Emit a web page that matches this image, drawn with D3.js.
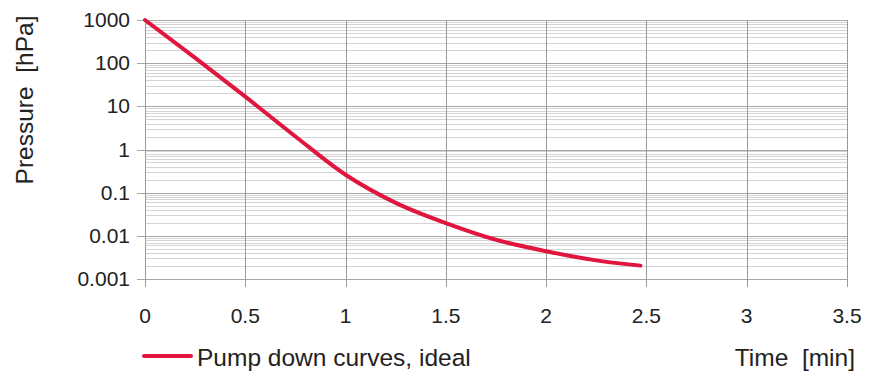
<!DOCTYPE html>
<html>
<head>
<meta charset="utf-8">
<script src="https://cdn.jsdelivr.net/npm/d3@7"></script>
<style>
  html, body { margin: 0; padding: 0; background: #fff; }
  svg { display: block; font-family: "Liberation Sans", Arial, sans-serif; }
</style>
</head>
<body>
<svg id="chart" width="893" height="372"></svg>
<script>
// Pump-down curve: time in minutes vs pressure in hPa
const timeMin = [0, 0.25, 0.5, 0.75, 1.0, 1.25, 1.5, 1.75, 2.0, 2.25, 2.47];
const pressureHPa = [1000, 133, 16.8, 2.0, 0.26, 0.058, 0.0197, 0.0081, 0.0044, 0.0027, 0.00204];

const xTicks = [0, 0.5, 1, 1.5, 2, 2.5, 3, 3.5];
const yTicks = [1000, 100, 10, 1, 0.1, 0.01, 0.001];
const yTickLabels = ["1000", "100", "10", "1", "0.1", "0.01", "0.001"];

const seriesName = "Pump down curves, ideal";
const xTitle = "Time  [min]";
const yTitle = "Pressure  [hPa]";

const svg = d3.select("#chart");
const m = { left: 145, right: 847, top: 20, bottom: 279 };

const x = d3.scaleLinear().domain([0, 3.5]).range([m.left, m.right]);
const y = d3.scaleLog().domain([0.001, 1000]).range([m.bottom, m.top]);

// minor horizontal grid (2..9 within each decade)
const minor = [];
for (let e = -3; e < 3; e++) {
  for (let k = 2; k <= 9; k++) minor.push(k * Math.pow(10, e));
}
svg.append("g").selectAll("line").data(minor).join("line")
  .attr("x1", m.left).attr("x2", m.right)
  .attr("y1", d => Math.round(y(d)) + 0.5).attr("y2", d => Math.round(y(d)) + 0.5)
  .attr("stroke", "#d4d4d4").attr("stroke-width", 1);

// major horizontal grid
svg.append("g").selectAll("line").data(yTicks).join("line")
  .attr("x1", m.left - 8).attr("x2", m.right)
  .attr("y1", d => Math.round(y(d)) + 0.5).attr("y2", d => Math.round(y(d)) + 0.5)
  .attr("stroke", "#a6a6a6").attr("stroke-width", 1);

// vertical grid + x ticks
svg.append("g").selectAll("line").data(xTicks).join("line")
  .attr("x1", d => Math.round(x(d)) + 0.5).attr("x2", d => Math.round(x(d)) + 0.5)
  .attr("y1", m.top).attr("y2", m.bottom + 8)
  .attr("stroke", "#9a9a9a").attr("stroke-width", 1);

// y tick labels
svg.append("g").selectAll("text").data(yTicks).join("text")
  .attr("x", m.left - 15).attr("y", d => y(d) + 7)
  .attr("text-anchor", "end")
  .attr("font-size", 21).attr("fill", "#222")
  .text((d, i) => yTickLabels[i]);

// x tick labels
svg.append("g").selectAll("text").data(xTicks).join("text")
  .attr("x", d => x(d)).attr("y", 323)
  .attr("text-anchor", "middle")
  .attr("font-size", 21).attr("fill", "#222")
  .text(d => String(d));

// curve
const line = d3.line()
  .x((d, i) => x(timeMin[i]))
  .y(d => y(d))
  .curve(d3.curveMonotoneX);
svg.append("path")
  .datum(pressureHPa)
  .attr("d", line)
  .attr("fill", "none")
  .attr("stroke", "#e0163f")
  .attr("stroke-width", 4)
  .attr("stroke-linecap", "round");

// axis titles
svg.append("text")
  .attr("transform", `translate(33, 100) rotate(-90)`)
  .attr("text-anchor", "middle")
  .attr("font-size", 24.5).attr("fill", "#222")
  .style("white-space", "pre")
  .text(yTitle);

svg.append("text")
  .attr("x", 855).attr("y", 366)
  .attr("text-anchor", "end")
  .attr("font-size", 24.5).attr("fill", "#222")
  .style("white-space", "pre")
  .text(xTitle);

// legend
svg.append("line")
  .attr("x1", 144).attr("x2", 191).attr("y1", 356).attr("y2", 356)
  .attr("stroke", "#e0163f").attr("stroke-width", 4).attr("stroke-linecap", "round");
svg.append("text")
  .attr("x", 197).attr("y", 366)
  .attr("font-size", 24.5).attr("fill", "#222")
  .text(seriesName);
</script>
</body>
</html>
